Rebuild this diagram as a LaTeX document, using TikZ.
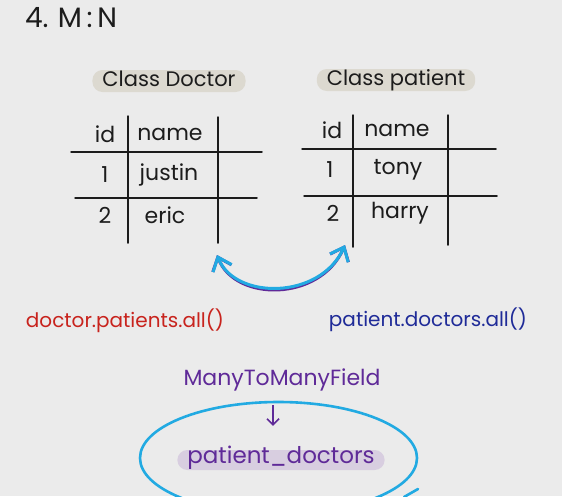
\documentclass[tikz,border=0pt]{standalone}
\usepackage{fontspec}
\setmainfont{Poppins}
\usetikzlibrary{arrows.meta,positioning}
\definecolor{paper}{HTML}{EBEBEB}
\definecolor{ink}{HTML}{1C1C1C}
\definecolor{pillbeige}{HTML}{DCD9D0}
\definecolor{pilllilac}{HTML}{D8CEE0}
\definecolor{callred}{HTML}{C8231D}
\definecolor{callnavy}{HTML}{1F2B98}
\definecolor{fieldpurple}{HTML}{5F2A98}
\definecolor{loopcyan}{HTML}{22AAE2}

\begin{document}
\begin{tikzpicture}[
  x=1pt,y=-1pt,
  hand/.style={text=ink,inner sep=1pt,font=\fontsize{20}{22}\selectfont},
  cell/.style={hand,font=\fontsize{22}{24}\selectfont},
  pill/.style={hand,fill=pillbeige,rounded corners=10pt,inner xsep=10pt,inner ysep=4pt,
    text height=12pt,text depth=2pt,font=\fontsize{21}{23}\selectfont},
  rule/.style={draw=ink,line width=1.5pt,line cap=round},
  swap/.style={{Straight Barb[length=12pt,width=20pt]}-{Straight Barb[length=12pt,width=20pt]},
    line width=3pt,line cap=round},
  down/.style={-{Straight Barb[length=6pt,width=12pt]},draw=fieldpurple,line width=1.5pt}
]
\fill[paper] (0,0) rectangle (562,496);
\clip (0,0) rectangle (562,496);

\node[hand,font=\fontsize{28}{30}\selectfont] (title) at (71,18) {4.\,\,M\,:\,N};

% doctor table
\node[pill] (doctorLabel) at (169,81) {Class Doctor};
\draw[rule] (71,152) -- (262,152);
\draw[rule] (75,198) -- (257,198);
\draw[rule] (128,116) -- (128,243);
\draw[rule] (218,117) -- (218,243);
\node[cell] (dId) at (105,134) {id};
\node[cell] (dName) at (170,134) {name};
\node[cell] (dOne) at (105,175) {1};
\node[cell] (dJustin) at (169,175) {justin};
\node[cell] (dTwo) at (105,215) {2};
\node[cell] (dEric) at (165,215) {eric};

% patient table
\node[pill] (patientLabel) at (396,80) {Class patient};
\draw[rule] (302,149) -- (496,149);
\draw[rule] (304,196) -- (497,196);
\draw[rule] (353,115) -- (353,247);
\draw[rule] (448,115) -- (448,245);
\node[cell] (pId) at (332,130) {id};
\node[cell] (pName) at (397,130) {name};
\node[cell] (pOne) at (330,170) {1};
\node[cell] (pTony) at (398,170) {tony};
\node[cell] (pTwo) at (333,213) {2};
\node[cell] (pHarry) at (400,213) {harry};

% many-to-many arrow
\coordinate (arrowL) at (217,255);
\coordinate (arrowR) at (345,245);
\draw[swap,draw=fieldpurple,yshift=-2pt] (arrowL) .. controls (235,300) and (320,300) .. (arrowR);
\draw[swap,draw=loopcyan] (arrowL) .. controls (235,300) and (320,300) .. (arrowR);

\node[hand,text=callred] (doctorCall) at (125,321) {doctor.patients.all()};
\node[hand,text=callnavy] (patientCall) at (428,320) {patient.doctors.all()};

% through table
\node[hand,text=fieldpurple,font=\fontsize{22}{24}\selectfont] (m2m) at (282,380) {ManyToManyField};
\node[pill,fill=pilllilac,text=fieldpurple,font=\fontsize{23}{25}\selectfont,
  text height=10pt,text depth=3pt,inner ysep=3.5pt] (through) at (281,460) {patient\_doctors};
\draw[down] ([xshift=-9pt,yshift=-13pt]m2m.south) -- ([xshift=-8pt,yshift=24pt]through.north);
\draw[draw=loopcyan,line width=2.6pt] (278.5,458) ellipse [x radius=138.5,y radius=56];
\draw[draw=loopcyan,line width=2.6pt,line cap=round] (404,497) -- (418,489);
\end{tikzpicture}
\end{document}
